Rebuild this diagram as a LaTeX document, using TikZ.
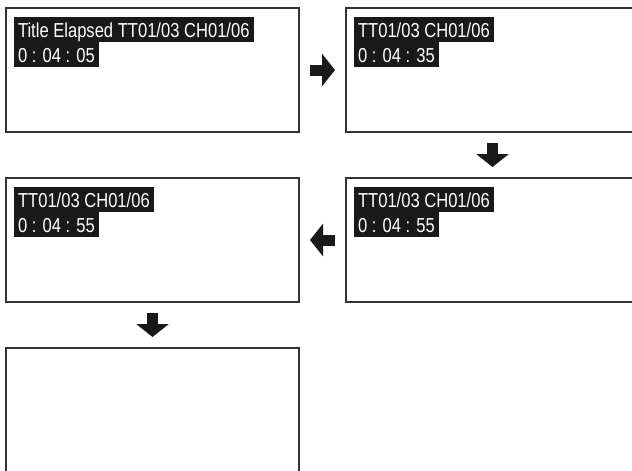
\documentclass[tikz,border=0pt]{standalone}
\usepackage{fontspec}
\newfontfamily\lcdfont[FakeStretch=0.82]{Liberation Sans}
\usepackage{tikz}
\usetikzlibrary{arrows.meta}

\begin{document}
\begin{tikzpicture}[
	screen/.style={draw=black!80,line width=1.1pt,minimum width=5.86cm,minimum height=2.48cm,inner sep=0pt,outer sep=0pt},
	osd/.style={fill=black!90,text=white,font=\lcdfont\fontsize{11.5}{12}\selectfont,inner xsep=2.3pt,inner ysep=0pt,text height=11.4pt,text depth=2.9pt,outer sep=0pt,anchor=north west},
	blockarrow/.style={draw=black!90,line width=0.22cm,shorten <=0.22cm,shorten >=0.22cm,-{Triangle[length=0.26cm,width=0.64cm]}}
	]
	\clip (0,0) rectangle (12.64,9.4);
	\node[screen] (s1) at (3.05,8) {};
	\node[screen] (s2) at (9.85,8) {};
	\node[screen] (s3) at (9.85,4.6) {};
	\node[screen] (s4) at (3.05,4.6) {};
	\node[screen] (s5) at (3.05,1.2) {};
	% on-screen display lines
	\node[osd] (s1a) at ([xshift=0.16cm,yshift=-0.18cm]s1.north west) {Title Elapsed TT01/03 CH01/06};
	\node[osd] (s1b) at (s1a.south west) {0 : 04 : 05};
	\node[osd] (s2a) at ([xshift=0.16cm,yshift=-0.18cm]s2.north west) {TT01/03 CH01/06};
	\node[osd] (s2b) at (s2a.south west) {0 : 04 : 35};
	\node[osd] (s3a) at ([xshift=0.16cm,yshift=-0.18cm]s3.north west) {TT01/03 CH01/06};
	\node[osd] (s3b) at (s3a.south west) {0 : 04 : 55};
	\node[osd] (s4a) at ([xshift=0.16cm,yshift=-0.18cm]s4.north west) {TT01/03 CH01/06};
	\node[osd] (s4b) at (s4a.south west) {0 : 04 : 55};
	% arrows
	\draw[blockarrow] (s1) -- (s2);
	\draw[blockarrow] (s2) -- (s3);
	\draw[blockarrow] (s3) -- (s4);
	\draw[blockarrow] (s4) -- (s5);
\end{tikzpicture}
\end{document}
